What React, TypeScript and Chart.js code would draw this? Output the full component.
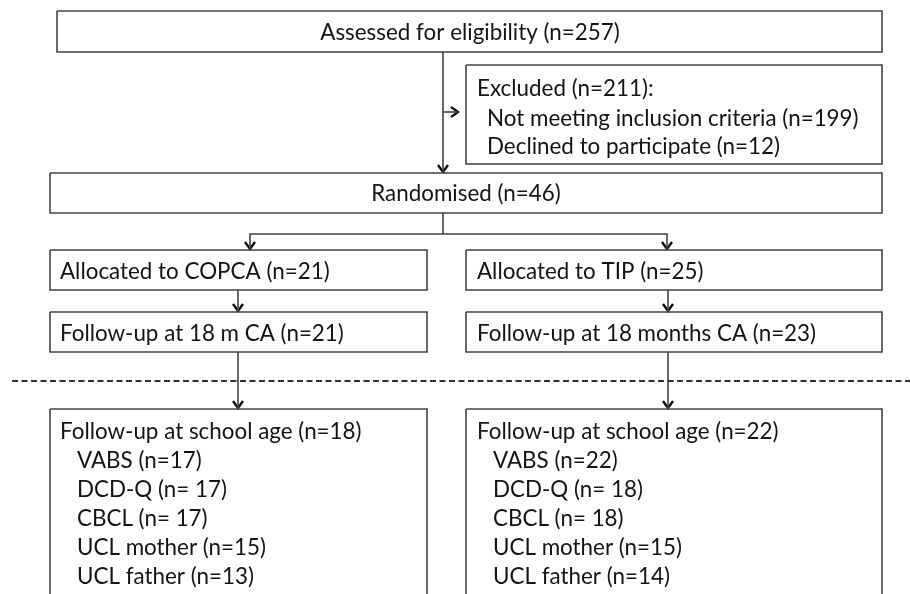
import React, { useEffect, useRef } from "react";
import { Chart, registerables } from "chart.js";

Chart.register(...registerables);

// ---- data (text and counts) ----
const enrolmentLabels = ["Assessed for eligibility", "Randomised"];
const enrolmentN = [257, 46];
const excludedTotal = 211;
const excludedReasons = ["Not meeting inclusion criteria", "Declined to participate"];
const excludedN = [199, 12];
const groups = ["COPCA", "TIP"];
const allocatedN = [21, 25];
const followUp18Labels = ["Follow-up at 18 m CA", "Follow-up at 18 months CA"];
const followUp18N = [21, 23];
const schoolAgeN = [18, 22];
const measures = ["VABS", "DCD-Q", "CBCL", "UCL mother", "UCL father"];
const measureSpacing = ["", " ", " ", "", ""];
const copcaMeasureN = [17, 17, 17, 15, 13];
const tipMeasureN = [22, 18, 18, 15, 14];

// ---- layout (pixel-like units on a 910 x 594 scale) ----
type Box = { x0: number; x1: number; y0: number; y1: number };
const BOX_ASSESSED: Box = { x0: 57, x1: 882, y0: 11, y1: 52 };
const BOX_EXCLUDED: Box = { x0: 466, x1: 882, y0: 65, y1: 164 };
const BOX_RANDOM: Box = { x0: 50, x1: 882, y0: 173, y1: 213 };
const BOX_ALLOC: Box[] = [
  { x0: 50, x1: 427, y0: 250, y1: 290 },
  { x0: 466, x1: 882, y0: 250, y1: 290 },
];
const BOX_FU18: Box[] = [
  { x0: 50, x1: 427, y0: 312, y1: 352 },
  { x0: 466, x1: 882, y0: 312, y1: 352 },
];
const BOX_SCHOOL: Box[] = [
  { x0: 50, x1: 427, y0: 409, y1: 620 },
  { x0: 466, x1: 882, y0: 409, y1: 620 },
];
const MAIN_X = 443;
const BRANCH_Y = 234;
const ALLOC_ARROW_X = [250, 667];
const FU_ARROW_X = [238, 668];
const EXCL_ARROW_Y = 112;
const DASH_Y = 381;

const LINE_COLOR = "#444";
const TEXT_COLOR = "#151515";
const FONT = "22.4px Lato";

function boxPts(b: Box) {
  return [
    { x: b.x0, y: b.y0 },
    { x: b.x1, y: b.y0 },
    { x: b.x1, y: b.y1 },
    { x: b.x0, y: b.y1 },
    { x: b.x0, y: b.y0 },
  ];
}

function lineDs(data: { x: number; y: number }[], extra: any = {}) {
  return {
    type: "line" as const,
    data,
    borderColor: LINE_COLOR,
    borderWidth: 1.6,
    pointRadius: 0,
    showLine: true,
    fill: false,
    tension: 0,
    ...extra,
  };
}

function arrowDown(x: number, yTip: number) {
  return lineDs(
    [
      { x: x - 5, y: yTip - 7 },
      { x: x, y: yTip },
      { x: x + 5, y: yTip - 7 },
    ],
    { borderColor: "#111", borderWidth: 2.4 }
  );
}
function arrowRight(xTip: number, y: number) {
  return lineDs(
    [
      { x: xTip - 7, y: y - 5 },
      { x: xTip, y: y },
      { x: xTip - 7, y: y + 5 },
    ],
    { borderColor: "#111", borderWidth: 2.4 }
  );
}

type TextItem = { text: string; x: number; y: number; align: CanvasTextAlign };

function buildTexts(): TextItem[] {
  const t: TextItem[] = [];
  t.push({
    text: `${enrolmentLabels[0]} (n=${enrolmentN[0]})`,
    x: 470,
    y: 33,
    align: "center",
  });
  t.push({ text: `Excluded (n=${excludedTotal}):`, x: 477, y: 89, align: "left" });
  excludedReasons.forEach((r, i) =>
    t.push({ text: `${r} (n=${excludedN[i]})`, x: 487, y: 119 + i * 28, align: "left" })
  );
  t.push({
    text: `${enrolmentLabels[1]} (n=${enrolmentN[1]})`,
    x: (BOX_RANDOM.x0 + BOX_RANDOM.x1) / 2,
    y: 194,
    align: "center",
  });
  const leftX = [60, 477];
  const subX = [77, 493];
  groups.forEach((g, i) => {
    t.push({ text: `Allocated to ${g} (n=${allocatedN[i]})`, x: leftX[i], y: 272, align: "left" });
    t.push({ text: `${followUp18Labels[i]} (n=${followUp18N[i]})`, x: leftX[i], y: 334, align: "left" });
    t.push({ text: `Follow-up at school age (n=${schoolAgeN[i]})`, x: leftX[i], y: 432, align: "left" });
    const vals = i === 0 ? copcaMeasureN : tipMeasureN;
    measures.forEach((m, j) =>
      t.push({
        text: `${m} (n=${measureSpacing[j]}${vals[j]})`,
        x: subX[i],
        y: 461 + j * 29,
        align: "left",
      })
    );
  });
  return t;
}

const textPlugin = {
  id: "flowText",
  afterDatasetsDraw(chart: any) {
    const { ctx, scales } = chart;
    ctx.save();
    ctx.font = FONT;
    ctx.fillStyle = TEXT_COLOR;
    ctx.textBaseline = "middle";
    buildTexts().forEach((it) => {
      ctx.textAlign = it.align;
      ctx.fillText(it.text, scales.x.getPixelForValue(it.x), scales.y.getPixelForValue(it.y));
    });
    ctx.restore();
  },
};

export default function App() {
  const ref = useRef<HTMLCanvasElement>(null);
  useEffect(() => {
    document.body.style.margin = "0";
    const datasets: any[] = [];
    [BOX_ASSESSED, BOX_EXCLUDED, BOX_RANDOM, ...BOX_ALLOC, ...BOX_FU18, ...BOX_SCHOOL].forEach((b) =>
      datasets.push(lineDs(boxPts(b)))
    );
    datasets.push(lineDs([{ x: MAIN_X, y: BOX_ASSESSED.y1 }, { x: MAIN_X, y: BOX_RANDOM.y0 - 1 }]));
    datasets.push(arrowDown(MAIN_X, BOX_RANDOM.y0 - 1));
    datasets.push(lineDs([{ x: MAIN_X, y: EXCL_ARROW_Y }, { x: BOX_EXCLUDED.x0 - 8, y: EXCL_ARROW_Y }]));
    datasets.push(arrowRight(BOX_EXCLUDED.x0 - 8, EXCL_ARROW_Y));
    datasets.push(lineDs([{ x: MAIN_X, y: BOX_RANDOM.y1 }, { x: MAIN_X, y: BRANCH_Y }]));
    datasets.push(
      lineDs([
        { x: ALLOC_ARROW_X[0], y: BOX_ALLOC[0].y0 - 1 },
        { x: ALLOC_ARROW_X[0], y: BRANCH_Y },
        { x: ALLOC_ARROW_X[1], y: BRANCH_Y },
        { x: ALLOC_ARROW_X[1], y: BOX_ALLOC[1].y0 - 1 },
      ])
    );
    ALLOC_ARROW_X.forEach((x, i) => datasets.push(arrowDown(x, BOX_ALLOC[i].y0 - 1)));
    FU_ARROW_X.forEach((x, i) => {
      datasets.push(lineDs([{ x, y: BOX_ALLOC[i].y1 }, { x, y: BOX_FU18[i].y0 - 1 }]));
      datasets.push(arrowDown(x, BOX_FU18[i].y0 - 1));
      datasets.push(lineDs([{ x, y: BOX_FU18[i].y1 }, { x, y: BOX_SCHOOL[i].y0 - 1 }]));
      datasets.push(arrowDown(x, BOX_SCHOOL[i].y0 - 1));
    });
    datasets.push(
      lineDs(
        [
          { x: 12, y: DASH_Y },
          { x: 910, y: DASH_Y },
        ],
        { borderDash: [6, 3.5], borderWidth: 2, borderColor: "#333" }
      )
    );

    const chart = new Chart(ref.current!, {
      type: "scatter",
      data: { datasets },
      options: {
        animation: false,
        responsive: false,
        maintainAspectRatio: false,
        layout: { padding: 0 },
        plugins: { legend: { display: false }, tooltip: { enabled: false } },
        events: [],
        scales: {
          x: { type: "linear", min: 0, max: 910, display: false },
          y: { type: "linear", min: 0, max: 594, reverse: true, display: false },
        },
      },
      plugins: [textPlugin],
    });
    return () => chart.destroy();
  }, []);
  return (
    <div style={{ width: 910, height: 594, background: "#fff" }}>
      <canvas ref={ref} width={910} height={594} />
    </div>
  );
}
